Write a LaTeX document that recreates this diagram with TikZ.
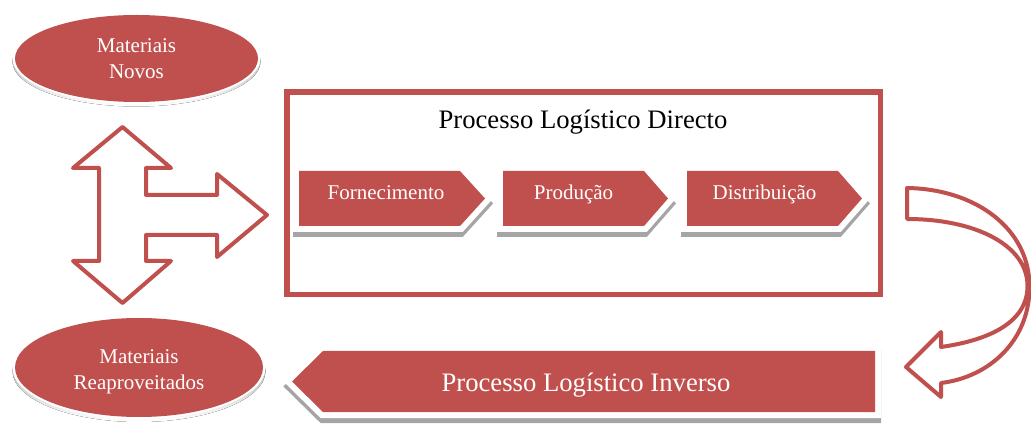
\documentclass[tikz,border=0pt]{standalone}
\usepackage{fontspec}
\setmainfont{Liberation Serif}
\definecolor{accent}{HTML}{C0504D}
\definecolor{shade}{HTML}{A5A5A5}
\begin{document}
\begin{tikzpicture}[x=0.75pt,y=-0.75pt,
  shadow/.style={fill=shade,draw=shade,line width=9pt,line join=miter},
  backing/.style={fill=white,draw=white,line width=9pt,line join=miter},
  redfill/.style={fill=accent},
  outline/.style={draw=accent,fill=white,line width=3pt,line join=round},
  frame/.style={draw=accent,line width=4.1pt},
  small/.style={text=white,font=\fontsize{15.75}{19.5}\selectfont,align=center,inner sep=0pt},
  large/.style={font=\fontsize{20}{24}\selectfont,inner sep=0pt}]
\useasboundingbox (0,0) rectangle (1031,427);

% source ellipses
\fill[shade] (136.5,61.5) ellipse [x radius=124, y radius=45];
\fill[white] (136.5,58.5) ellipse [x radius=124, y radius=45.5];
\fill[accent] (136.5,58.5) ellipse [x radius=121.5, y radius=43.5];
\node[small] (novos) at (136.5,59) {Materiais\\Novos};

\fill[shade] (139,371) ellipse [x radius=126.5, y radius=51];
\fill[white] (139,367.5) ellipse [x radius=126.5, y radius=51.5];
\fill[accent] (139,367.5) ellipse [x radius=124, y radius=49.5];
\node[small] (reapr) at (139,372) {Materiais\\Reaproveitados};

% three-way arrow
\draw[outline] (122.5,127) -- (171,168) -- (146,168) -- (146,195) -- (217,195)
  -- (217,174) -- (267,215) -- (217,257) -- (217,235) -- (146,235) -- (146,261)
  -- (171,261) -- (122.5,303) -- (73,261) -- (99,261) -- (99,168) -- (73,168) -- cycle;

% direct process frame
\draw[frame] (287,92) rectangle (880.5,294.5);
\node[large,anchor=base] (direto) at (583,129) {Processo Logístico Directo};

% process steps
\foreach \a/\b/\c/\nm/\txt/\tx in {299/460/485/forn/Fornecimento/386,
    503/644/668/prod/Produção/573.5, 687/838/862/dist/Distribuição/764.5} {
  \filldraw[shadow] (\a,176) -- (\b,176) -- (\c,203.5) -- (\b,231) -- (\a,231) -- cycle;
  \filldraw[backing] (\a,171) -- (\b,171) -- (\c,198.5) -- (\b,226) -- (\a,226) -- cycle;
  \fill[redfill] (\a,171) -- (\b,171) -- (\c,198.5) -- (\b,226) -- (\a,226) -- cycle;
  \node[small,anchor=base] (\nm) at (\tx,200) {\txt};
}

% return arrow
\draw[outline] (907,188) .. controls (975,189) and (1029,228) .. (1029.5,286)
  .. controls (1030,340) and (990,377) .. (941,383)
  -- (941,397) -- (906,367) -- (941,332) -- (941,347)
  .. controls (990,340) and (1027.5,322) .. (1027.5,286)
  .. controls (1027.5,245) and (975,219) .. (907,219) -- cycle;

% reverse process
\filldraw[shadow] (323,356) -- (875,356) -- (875,417) -- (323,417) -- (292,386.5) -- cycle;
\filldraw[backing] (323,351) -- (875,351) -- (875,412) -- (323,412) -- (292,381.5) -- cycle;
\fill[redfill] (323,351) -- (875,351) -- (875,412) -- (323,412) -- (292,381.5) -- cycle;
\node[large,text=white,anchor=base] (inverso) at (586,391) {Processo Logístico Inverso};
\end{tikzpicture}
\end{document}
